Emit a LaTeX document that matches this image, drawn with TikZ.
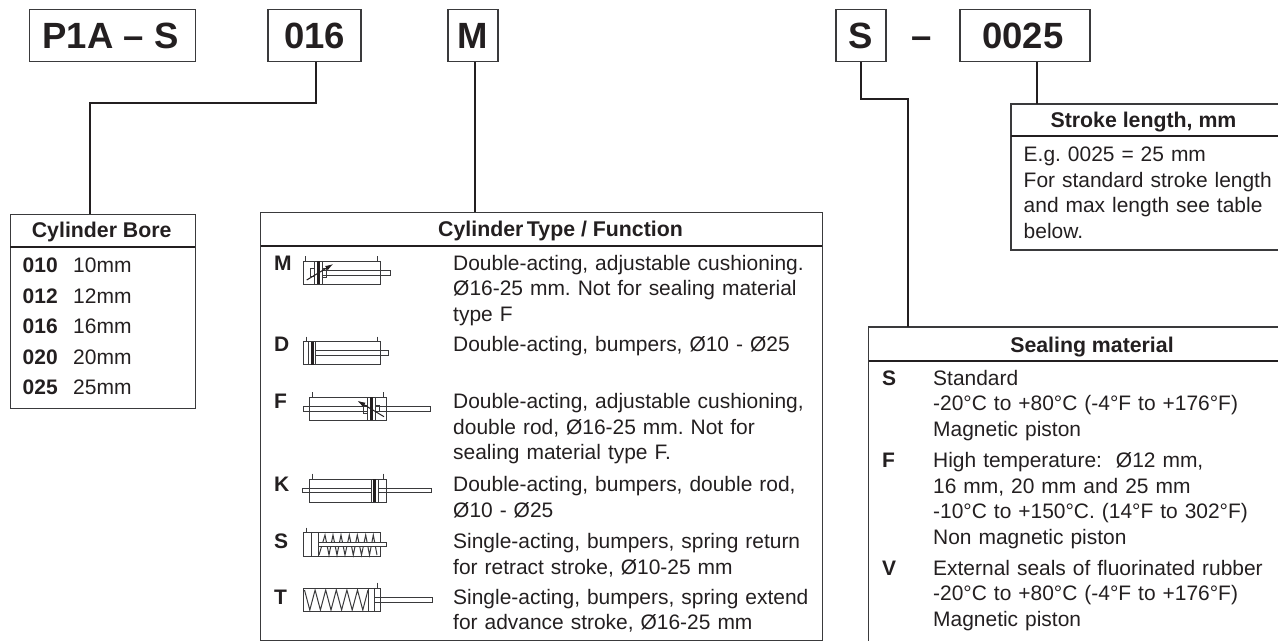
\documentclass[tikz,border=0pt]{standalone}
\usepackage{fontspec}
\setmainfont{Liberation Sans}
\usetikzlibrary{arrows.meta, positioning, calc}
\definecolor{ink}  {HTML}{231F20}
\definecolor{frame}{HTML}{3A3A3C}
\tikzset{
  topbox/.style={draw=frame, line width=1.2pt, inner sep=0pt, minimum height=52pt,
    text=ink, font=\fontsize{36.5}{40}\selectfont\bfseries},
  panel/.style={draw=frame, line width=1.2pt},
  headrule/.style={draw=ink, line width=2pt},
  link/.style={draw=ink, line width=2pt},
  heading/.style={anchor=base, inner sep=0pt, text=ink, font=\fontsize{21.3}{25}\selectfont\bfseries},
  code/.style={anchor=base west, inner sep=0pt, text=ink, font=\fontsize{21}{25}\selectfont\bfseries},
  plain/.style={anchor=base west, inner sep=0pt, text=ink, font=\fontsize{21}{25}\selectfont},
  rowtext/.style={anchor=north west, inner sep=0pt, text=ink, align=left, text width=400pt,
    font=\fontsize{20.95}{25.6}\selectfont\frenchspacing, execute at begin node=\strut},
  sym/.style={draw=frame, line width=1pt},
  symthick/.style={draw=ink, line width=3pt},
  symarrow/.style={draw=ink, line width=1pt, -{Latex[length=8pt,width=5pt]}}
}
\begin{document}
\begin{tikzpicture}[x=1pt, y=-1pt]
    \useasboundingbox (0, 0) rectangle (1278, 641);

    % --- order code ---------------------------------------------------------
    \node[topbox, minimum width=166pt] (boxSeries) at (112.5, 35.5) {P1A -- S\kern4pt};
    \node[topbox, minimum width=93pt]  (boxBore)   at (314.5, 35.5) {016};
    \node[topbox, minimum width=50pt]  (boxType)   at (473, 35.5)   {M};
    \node[topbox, minimum width=50pt]  (boxSeal)   at (861, 35.5)   {S};
    \node[inner sep=0pt, text=ink, font=\fontsize{36.5}{40}\selectfont\bfseries] (dashSeal) at (922, 42.2) {--};
    \node[topbox, minimum width=130pt] (boxStroke) at (1025, 35.5)  {0025\kern4pt};

    % --- bore ---------------------------------------------------------------
    \node[panel, anchor=north west, minimum width=185.5pt, minimum height=194.5pt] (panelBore) at (9.5, 213.5) {};
    \draw[headrule] (10, 247) -- (195, 247);
    \node[heading] (headBore) at (101.7, 237) {Cylinder Bore};
    \node[code] (code010) at (22.5, 272.7) {010};
    \node[code] (code012) at (22.5, 303.2) {012};
    \node[code] (code016) at (22.5, 333.7) {016};
    \node[code] (code020) at (22.5, 364.2) {020};
    \node[code] (code025) at (22.5, 394.7) {025};
    \node[plain] (mm010) at (73, 272.7) {10mm};
    \node[plain] (mm012) at (73, 303.2) {12mm};
    \node[plain] (mm016) at (73, 333.7) {16mm};
    \node[plain] (mm020) at (73, 364.2) {20mm};
    \node[plain] (mm025) at (73, 394.7) {25mm};

    % --- type ---------------------------------------------------------------
    \node[panel, anchor=north west, minimum width=562pt, minimum height=428pt] (panelType) at (259.7, 211.7) {};
    \draw[headrule] (260.5, 245.7) -- (821.5, 245.7);
    \node[heading] (headType) at (560.5, 236) {Cylinder\,Type / Function};

    \node[code] (typeM) at (274, 270) {M};
    \node[rowtext] (textM) at (453, 252.1)
      {Double-acting, adjustable cushioning.\\ Ø16-25 mm. Not for sealing material\\ type F};
    \node[code] (typeD) at (274, 351.7) {D};
    \node[rowtext] (textD) at (453, 333.8) {Double-acting, bumpers, Ø10 - Ø25};
    \node[code] (typeF) at (274, 408.3) {F};
    \node[rowtext] (textF) at (453, 390.4)
      {Double-acting, adjustable cushioning,\\ double rod, Ø16-25 mm. Not for\\ sealing material type F.};
    \node[code] (typeK) at (274, 491) {K};
    \node[rowtext] (textK) at (453, 473.8) {Double-acting, bumpers, double rod,\\ Ø10 - Ø25};
    \node[code] (typeS) at (274, 548) {S};
    \node[rowtext] (textS) at (453, 530.4) {Single-acting, bumpers, spring return\\ for retract stroke, Ø10-25 mm};
    \node[code] (typeT) at (274, 604) {T};
    \node[rowtext] (textT) at (453, 586.1) {Single-acting, bumpers, spring extend\\ for advance stroke, Ø16-25 mm};

    % symbol M
    \draw[sym] (303.3, 261) rectangle (380, 284.3);
    \draw[sym] (305.7, 256) -- (305.7, 261) (377.7, 256) -- (377.7, 261);
    \draw[sym] (314, 261) -- (314, 284.3) (322, 261) -- (322, 284.3);
    \draw[symthick] (318, 261) -- (318, 284.3);
    \draw[sym] (322, 270.3) -- (390, 270.3) -- (390, 275) -- (322, 275);
    \draw[sym] (310, 268.3) rectangle (314, 276.7) (322, 268) rectangle (326.7, 277);
    \draw[symarrow] (306.7, 280) -- (333.3, 264);

    % symbol D
    \draw[sym] (303.5, 341.5) rectangle (380, 364.5);
    \draw[sym] (306, 336.5) -- (306, 341.5) (377.5, 336.5) -- (377.5, 341.5);
    \draw[sym] (308.7, 341.5) -- (308.7, 364.5) (315, 341.5) -- (315, 364.5);
    \draw[symthick] (312, 341.5) -- (312, 364.5);
    \draw[sym] (315, 350.7) -- (388.3, 350.7) -- (388.3, 355) -- (315, 355);

    % symbol F
    \draw[sym] (309.3, 397.3) rectangle (386, 420.3);
    \draw[sym] (312, 392.3) -- (312, 397.3) (383.3, 392.3) -- (383.3, 397.3);
    \draw[sym] (367.3, 397.3) -- (367.3, 420.3) (375, 397.3) -- (375, 420.3);
    \draw[symthick] (371, 397.3) -- (371, 420.3);
    \draw[sym] (367.3, 406.7) -- (303.3, 406.7) -- (303.3, 411) -- (367.3, 411);
    \draw[sym] (375, 406.7) -- (430.7, 406.7) -- (430.7, 411) -- (375, 411);
    \draw[sym] (363.3, 405) rectangle (367.3, 413.3) (375, 405) rectangle (379.3, 411);
    \draw[symarrow] (384, 416.7) -- (357.3, 400.7);

    % symbol K
    \draw[sym] (309.3, 479) rectangle (386, 502);
    \draw[sym] (312, 473.7) -- (312, 479) (383.3, 473.7) -- (383.3, 479);
    \draw[sym] (371, 479) -- (371, 502) (378.3, 479) -- (378.3, 502);
    \draw[symthick] (374.7, 479) -- (374.7, 502);
    \draw[sym] (371, 488.7) -- (302.7, 488.7) -- (302.7, 492.7) -- (371, 492.7);
    \draw[sym] (378.3, 488.7) -- (431, 488.7) -- (431, 492.7) -- (378.3, 492.7);

    % symbol S
    \draw[sym] (303.3, 532.7) rectangle (380, 556);
    \draw[sym] (306, 527.7) -- (306, 532.7);
    \draw[sym] (311.7, 532.7) -- (311.7, 556);
    \draw[sym, line width=1.4pt] (318.3, 532.7) -- (318.3, 556);
    \draw[sym] (319, 555) -- (325, 535) -- (329, 555) -- (333, 535) -- (337, 555) -- (341, 535)
      -- (345, 555) -- (349.3, 535) -- (353.3, 555) -- (357.3, 535) -- (361.5, 555) -- (365.7, 535)
      -- (369.5, 555) -- (373.3, 535) -- (377, 555);
    \draw[sym, fill=white] (318.3, 542.3) rectangle (386.3, 546.3);

    % symbol T
    \draw[sym] (303.3, 588.3) rectangle (380, 611.3);
    \draw[sym] (377.3, 582.7) -- (377.3, 588.3);
    \draw[sym] (368.7, 588.3) -- (368.7, 611.3) (374.7, 588.3) -- (374.7, 611.3);
    \draw[sym] (304.5, 590) -- (309.8, 610) -- (315.1, 590) -- (320.4, 610) -- (325.7, 590)
      -- (331, 610) -- (336.3, 590) -- (341.6, 610) -- (346.9, 590) -- (352.2, 610) -- (357.5, 590)
      -- (362.8, 610) -- (368, 590);
    \draw[sym] (374.7, 597.7) -- (432.7, 597.7) -- (432.7, 602) -- (374.7, 602);

    % --- stroke length, runs off the page ---------------------------------------
    \coordinate (strokeIn) at (1037, 104);
    \draw[panel] (1278, 104) -- (1011, 104) -- (1011, 250) -- (1278, 250);
    \draw[headrule] (1011, 136) -- (1278, 136);
    \node[heading] (headStroke) at (1143.5, 127) {Stroke length, mm};
    \node[rowtext] (textStroke) at (1023.5, 143.3)
      {E.g. 0025 = 25 mm\\ For standard stroke length\\ and max length see table\\ below.};

    % --- sealing, runs off the page ---------------------------------------------
    \coordinate (sealIn) at (908, 327);
    \draw[panel] (1278, 327) -- (868.5, 327) -- (868.5, 641);
    \draw[headrule] (868.5, 361) -- (1278, 361);
    \node[heading] (headSeal) at (1092, 352) {Sealing material};
    \node[code] (sealS) at (882, 385) {S};
    \node[rowtext] (textSealS) at (933, 367)
      {Standard\\ -20°C to +80°C (-4°F to +176°F)\\ Magnetic piston};
    \node[code] (sealF) at (882, 467) {F};
    \node[rowtext] (textSealF) at (933, 449.3)
      {High temperature:\ \ Ø12 mm,\\ 16 mm, 20 mm and 25 mm\\ -10°C to +150°C. (14°F to 302°F)\\ Non magnetic piston};
    \node[code] (sealV) at (882, 575) {V};
    \node[rowtext] (textSealV) at (933, 557)
      {External seals of fluorinated rubber\\ -20°C to +80°C (-4°F to +176°F)\\ Magnetic piston};

    % --- connectors -------------------------------------------------------------
    \coordinate (boreBend) at (89.5, 103);
    \coordinate (sealBend) at (908, 99);
    \draw[link] ([xshift=1.5pt]boxBore.south) |- (boreBend) -- (boreBend |- panelBore.north);
    \draw[link] ([xshift=1.5pt]boxType.south) -- ([xshift=1.5pt]boxType.south |- panelType.north);
    \draw[link] (boxSeal.south) |- (sealBend) -- (sealIn);
    \draw[link] (strokeIn |- boxStroke.south) -- (strokeIn);
  \end{tikzpicture}
\end{document}
